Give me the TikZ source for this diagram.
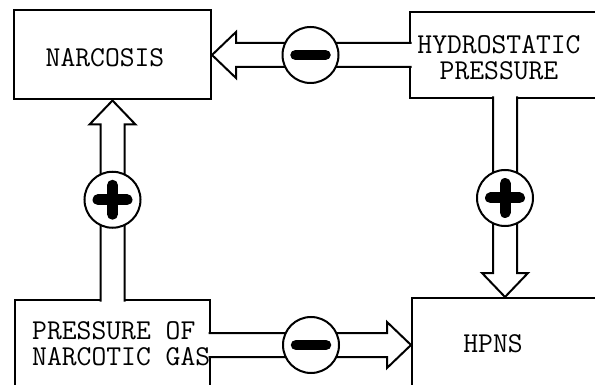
\documentclass[tikz,border=0pt]{standalone}
\usepackage{fontspec}
\usetikzlibrary{calc}

\begin{document}
\begin{tikzpicture}[x=1pt,y=-1pt,
  box/.style={draw,line width=2pt},
  txt/.style={font=\fontsize{28.8}{26}\selectfont\ttfamily,inner sep=0pt},
  hollow/.style={draw,fill=white,line width=2pt,
    to path={
      ($(\tikztostart)!-2.5pt!(\tikztotarget)$) coordinate (hs)
      ($(\tikztotarget)!24pt!(\tikztostart)$) coordinate (hb)
      ($(hs)!12pt!90:(hb)$)
      -- ($(hb)!12pt!90:(\tikztotarget)$)
      -- ($(hb)!23pt!90:(\tikztotarget)$)
      -- (\tikztotarget)
      -- ($(hb)!23pt!-90:(\tikztotarget)$)
      -- ($(hb)!12pt!-90:(\tikztotarget)$)
      -- ($(hs)!12pt!-90:(hb)$)}},
  sign/.style={circle,draw,fill=white,line width=2pt,
    minimum size=56pt,inner sep=0pt},
  minus/.style={sign,path picture={
    \draw[line width=10.5pt,line cap=round]
    ([xshift=-15pt]path picture bounding box.center)
    --([xshift=15pt]path picture bounding box.center);}},
  plus/.style={sign,path picture={
    \draw[line width=11pt,line cap=round]
    ([xshift=-14.5pt]path picture bounding box.center)
    --([xshift=14.5pt]path picture bounding box.center)
    ([yshift=-14.5pt]path picture bounding box.center)
    --([yshift=14.5pt]path picture bounding box.center);}}]

\useasboundingbox (0,0) rectangle (595,385);

% boxes
\node[box,minimum width=197pt,minimum height=89pt]
(narc)
at (112.5,55)
{};

\node[box,minimum width=190pt,minimum height=86pt]
(hyd)
at (505,55)
{};

\node[box,minimum width=195pt,minimum height=90pt]
(press)
at (112.5,345)
{};

\node[box,minimum width=186pt,minimum height=94pt]
(hpns)
at (505,345)
{};

% hollow arrows
\draw[hollow]
(hyd.west) to (narc.east);

\draw[hollow]
(press.north) to (narc.south);

\draw[hollow]
(hyd.south) to (hpns.north);

\draw[hollow]
(press.east) to (hpns.west);

% signs
\node[minus]
(signtop)
at ($(hyd.west)!0.5!(narc.east)$)
{};

\node[plus]
(signleft)
at ($(press.north)!0.5!(narc.south)$)
{};

\node[plus]
(signright)
at ($(hyd.south)!0.5!(hpns.north)$)
{};

\node[minus]
(signbottom)
at ($(press.east)!0.5!(hpns.west)$)
{};

% texts
\node[txt]
(narctext)
at (105,57.5)
{NARCOSIS};

\node[txt,align=center]
(hydtext)
at (499,57.5)
{HYDROSTATIC\\PRESSURE};

\node[txt,align=left,anchor=west]
(presstext)
at (32,344)
{PRESSURE OF\\NARCOTIC GAS};

\node[txt]
(hpnstext)
at (493,343.5)
{HPNS};

\end{tikzpicture}
\end{document}
